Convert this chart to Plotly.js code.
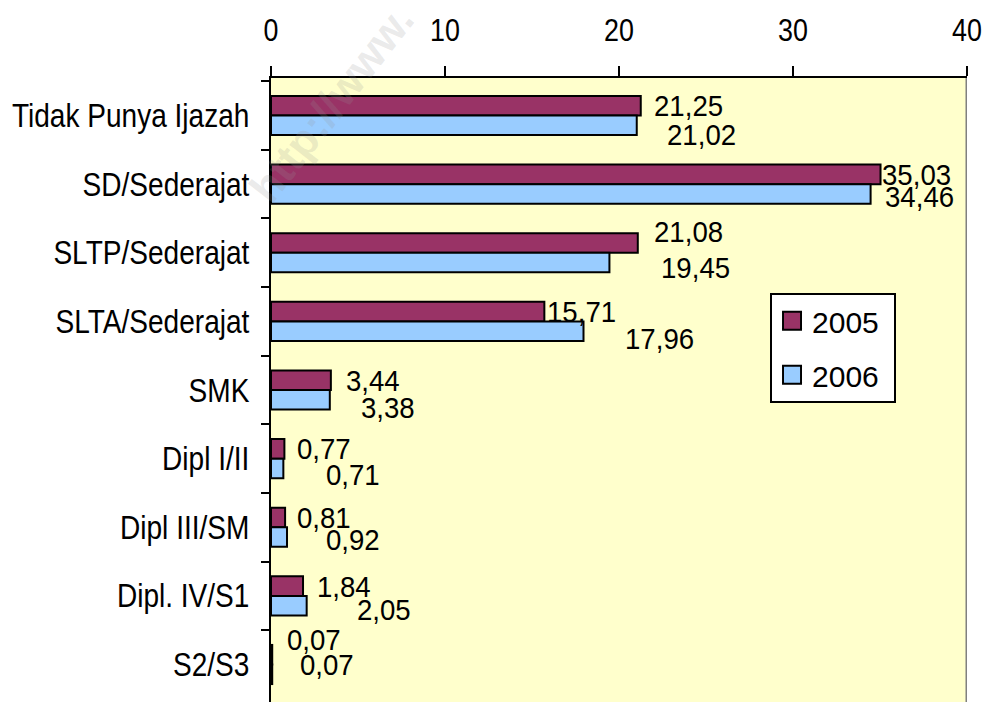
<!DOCTYPE html>
<html>
<head>
<meta charset="utf-8">
<script src="https://cdn.plot.ly/plotly-3.0.1.min.js"></script>
<style>
html,body{margin:0;padding:0;overflow:hidden;background:#fff;}
#chart{width:985px;height:708px;}
</style>
</head>
<body>
<div id="chart"></div>
<script>
var categories = ["Tidak Punya Ijazah","SD/Sederajat","SLTP/Sederajat","SLTA/Sederajat","SMK","Dipl I/II","Dipl III/SM","Dipl. IV/S1","S2/S3"];
var values2005 = [21.25, 35.03, 21.08, 15.71, 3.44, 0.77, 0.81, 1.84, 0.07];
var values2006 = [21.02, 34.46, 19.45, 17.96, 3.38, 0.71, 0.92, 2.05, 0.07];
var seriesNames = ["2005", "2006"];
var xTicks = [0, 10, 20, 30, 40];

// label nudges in pixels (style only)
var nudgeX2005 = [11, -1, 14, 1, 13, 11, 10, 12, 13];
var nudgeY2005 = [10, 10, 21, 10, 10, 10, 10, 9, 25];
var nudgeX2006 = [28, 12, 50, 39, 29, 41, 37, 48, 26];
var nudgeY2006 = [-19, -12, -15, -17, -17, -16, -12, -14, 0];

var sans = '"Liberation Sans", Arial, sans-serif';
var fmt = function(v){ return v.toFixed(2).replace('.', ','); };

var traces = [
  {type:'bar', orientation:'h', name:seriesNames[0], x:values2005, y:categories,
   legendgroup:'a', hoverinfo:'x+y',
   marker:{color:'#993366', line:{color:'#000000', width:2}}},
  {type:'bar', orientation:'h', name:seriesNames[1], x:values2006, y:categories,
   legendgroup:'b', hoverinfo:'x+y',
   marker:{color:'#99CCFF', line:{color:'#000000', width:2}}}
];

var annotations = [];
for (var i = 0; i < categories.length; i++) {
  annotations.push({xref:'x', yref:'y', x:values2005[i], y:categories[i], text:fmt(values2005[i]),
    showarrow:false, xanchor:'left', yanchor:'middle', align:'left', xshift:nudgeX2005[i], yshift:nudgeY2005[i],
    font:{family:sans, size:30, color:'#000'}});
  annotations.push({xref:'x', yref:'y', x:values2006[i], y:categories[i], text:fmt(values2006[i]),
    showarrow:false, xanchor:'left', yanchor:'middle', align:'left', xshift:nudgeX2006[i], yshift:nudgeY2006[i],
    font:{family:sans, size:30, color:'#000'}});
}
annotations.push({xref:'paper', yref:'paper', x:0.087, y:0.959, xanchor:'center', yanchor:'middle',
  text:'<b>http://www.</b>', showarrow:false, textangle:-52,
  font:{family:sans, size:44, color:'rgba(150,150,150,0.2)'}});

var layout = {
  width:985, height:708,
  margin:{l:271, r:18, t:78, b:0, pad:0},
  paper_bgcolor:'#ffffff',
  plot_bgcolor:'#FFFFCC',
  barmode:'group', bargap:0.43, bargroupgap:0,
  showlegend:true,
  legend:{x:0.717, y:0.659, xanchor:'left', yanchor:'top', bgcolor:'#ffffff',
    bordercolor:'#000000', borderwidth:2, traceorder:'grouped', tracegroupgap:12,
    font:{family:sans, size:30, color:'#000'}},
  xaxis:{side:'top', range:[0,40], tickvals:xTicks, ticktext:xTicks.map(String),
    ticks:'outside', ticklen:10, tickwidth:2, tickcolor:'#000',
    showline:true, linewidth:2, linecolor:'#000', showgrid:false, zeroline:false,
    ticklabelstandoff:12, ticklabeloverflow:'allow', fixedrange:true,
    tickfont:{family:sans, size:32, color:'#000'}},
  yaxis:{type:'category', autorange:'reversed', ticks:'outside', tickson:'boundaries',
    ticklen:8, tickwidth:2, tickcolor:'#000',
    showline:true, linewidth:2, linecolor:'#000', showgrid:false, zeroline:false,
    ticklabelstandoff:13, fixedrange:true,
    tickfont:{family:sans, size:33, color:'#000'}},
  shapes:[{type:'line', xref:'x', yref:'paper', x0:40, x1:40, y0:0, y1:1,
    line:{color:'#808080', width:3}}],
  annotations:annotations
};

function condense(nodes, ratio){
  nodes.forEach(function(t){
    if (t.textContent.indexOf('http') === 0) return;
    var L = t.getComputedTextLength();
    t.setAttribute('textLength', (L * ratio).toFixed(1));
    t.setAttribute('lengthAdjust', 'spacingAndGlyphs');
  });
}

Plotly.newPlot('chart', traces, layout, {displayModeBar:false, staticPlot:true}).then(function(gd){
  // emulate the condensed (Arial Narrow-like) face of the original
  condense(gd.querySelectorAll('.xtick text'), 0.84);
  condense(gd.querySelectorAll('.annotation-text'), 0.92);
  condense(gd.querySelectorAll('.ytick text'), 0.85);
  // larger legend swatches
  gd.querySelectorAll('.legendpoints path').forEach(function(p){
    p.setAttribute('d', 'M9,9H-9V-9H9Z');
  });
  var bg = gd.querySelector('.legend .bg');
  if (bg) { bg.setAttribute('width', (parseFloat(bg.getAttribute('width')) + 10).toFixed(1)); }
});
</script>
</body>
</html>
